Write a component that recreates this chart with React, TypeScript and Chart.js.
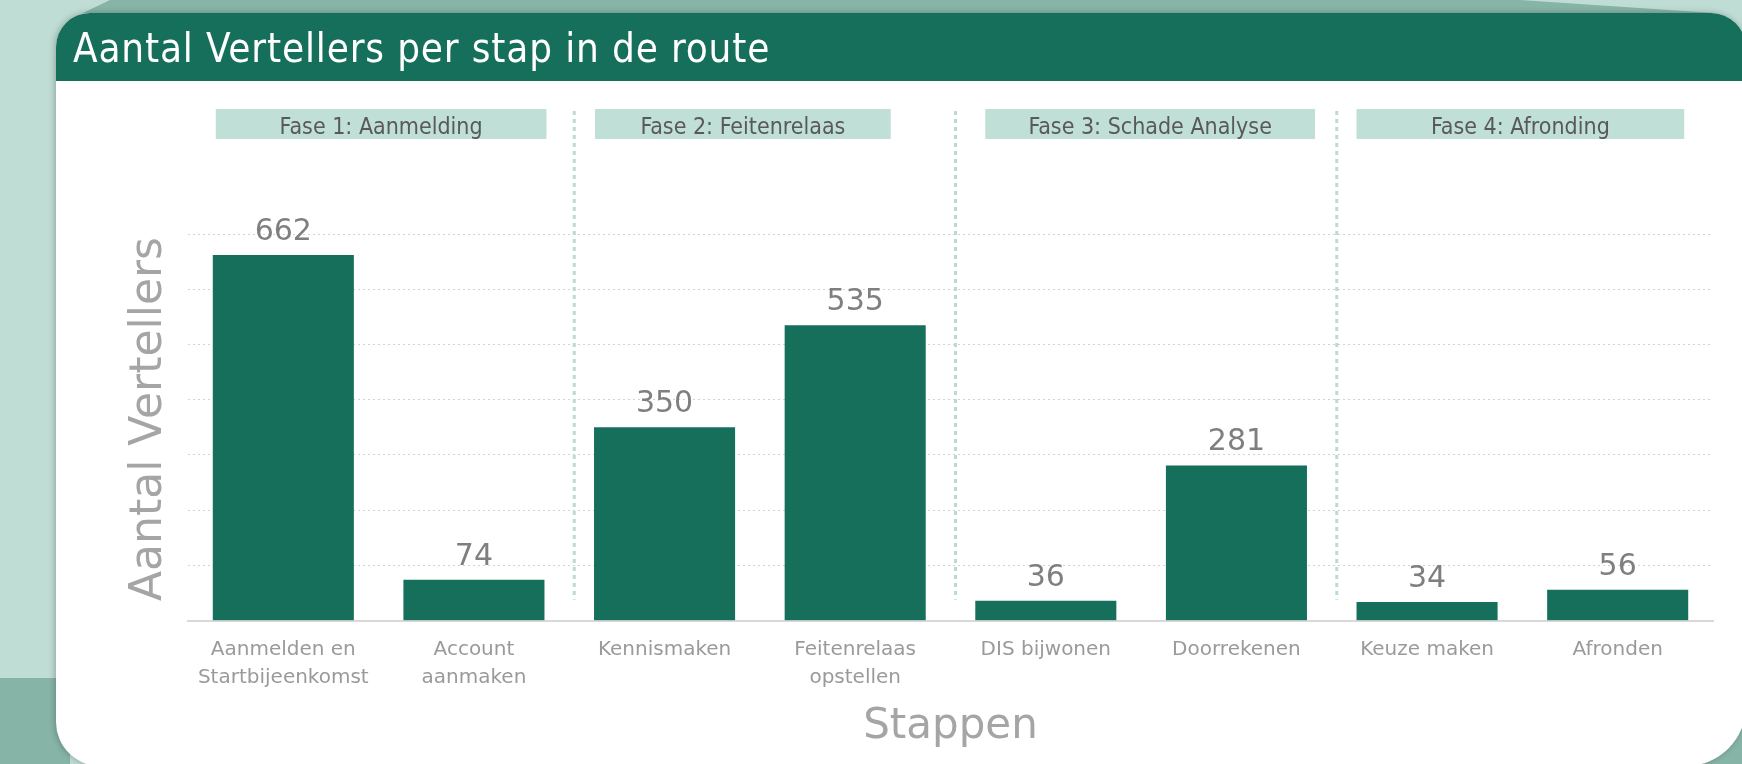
import React, { useEffect, useRef } from "react";
import { Chart, registerables } from "chart.js";

Chart.register(...registerables);

const W = 1742;
const H = 764;

// ---- data ----
const stepLabels: (string | string[])[] = [
  ["Aanmelden en", "Startbijeenkomst"],
  ["Account", "aanmaken"],
  "Kennismaken",
  ["Feitenrelaas", "opstellen"],
  "DIS bijwonen",
  "Doorrekenen",
  "Keuze maken",
  "Afronden",
];
const vertellers = [662, 74, 350, 535, 36, 281, 34, 56];
const phaseNames = [
  "Fase 1: Aanmelding",
  "Fase 2: Feitenrelaas",
  "Fase 3: Schade Analyse",
  "Fase 4: Afronding",
];
const phaseFirstStep = [0, 2, 4, 6];
const phaseLastStep = [1, 3, 5, 7];
const yMax = 700;
const yStep = 100;
const chartTitle = "Aantal Vertellers per stap in de route";
const yTitle = "Aantal Vertellers";
const xTitle = "Stappen";

// ---- styles ----
const GREEN = "#156f5b";
const BG_LIGHT = "#bfdcd5";
const BG_DARK = "#86b4a7";
const PHASE_BG = "#c0dfd7";
const SEP = "#bcdad3";
const SANS = '"DejaVu Sans", Verdana, sans-serif';
const COND = '"DejaVu Sans Condensed", "DejaVu Sans", sans-serif';
// box edge adjustments (px) relative to the outer bar edges of each phase: [left, right]
const phaseBoxAdjust = [
  [3, 2],
  [1, -35],
  [10, 8],
  [0, -4],
];

const backgroundPlugin = {
  id: "cardBackground",
  beforeDraw(chart: any) {
    const ctx: CanvasRenderingContext2D = chart.ctx;
    ctx.save();
    ctx.fillStyle = BG_LIGHT;
    ctx.fillRect(0, 0, W, H);
    ctx.fillStyle = BG_DARK;
    ctx.beginPath();
    ctx.moveTo(110, 0);
    ctx.lineTo(1520, 0);
    ctx.lineTo(1714, 13);
    ctx.lineTo(83, 13);
    ctx.closePath();
    ctx.fill();
    ctx.fillRect(0, 678, 70, H - 678);
    ctx.fillRect(1660, 690, W - 1660, H - 690);

    const card = new Path2D();
    (card as any).roundRect(56, 13, 1746 - 56, 766 - 13, [34, 35, 60, 44]);
    ctx.save();
    ctx.shadowColor = "rgba(0,0,0,0.25)";
    ctx.shadowBlur = 6;
    ctx.shadowOffsetX = -1;
    ctx.fillStyle = "#ffffff";
    ctx.fill(card);
    ctx.restore();

    ctx.save();
    ctx.clip(card);
    ctx.fillStyle = GREEN;
    ctx.fillRect(56, 13, 1746 - 56, 81 - 13);
    ctx.restore();

    ctx.fillStyle = "#ffffff";
    ctx.font = "40px " + COND;
    (ctx as any).letterSpacing = "0.85px";
    ctx.textAlign = "left";
    ctx.textBaseline = "alphabetic";
    ctx.fillText(chartTitle, 73, 62);
    (ctx as any).letterSpacing = "0px";

    // y-axis title
    ctx.save();
    ctx.translate(150, 419);
    ctx.rotate(-Math.PI / 2);
    ctx.fillStyle = "#a5a5a5";
    ctx.font = "44px " + SANS;
    ctx.textAlign = "center";
    ctx.textBaseline = "middle";
    ctx.fillText(yTitle, 0, 0);
    ctx.restore();
    ctx.restore();
  },
};

const phasePlugin = {
  id: "phases",
  beforeDatasetsDraw(chart: any) {
    const ctx: CanvasRenderingContext2D = chart.ctx;
    const meta = chart.getDatasetMeta(0);
    const area = chart.chartArea;
    const bars = meta.data;
    ctx.save();
    phaseNames.forEach((name, p) => {
      const a = bars[phaseFirstStep[p]];
      const b = bars[phaseLastStep[p]];
      const x0 = a.x - a.width / 2 + phaseBoxAdjust[p][0];
      const x1 = b.x + b.width / 2 + phaseBoxAdjust[p][1];
      const top = area.top - 125;
      ctx.fillStyle = PHASE_BG;
      ctx.fillRect(x0, top, x1 - x0, 30);
      ctx.fillStyle = "#595959";
      ctx.font = "23px " + COND;
      ctx.textAlign = "center";
      ctx.textBaseline = "alphabetic";
      ctx.fillText(name, (x0 + x1) / 2, top + 25);
      if (p < phaseNames.length - 1) {
        const n = bars[phaseFirstStep[p + 1]];
        const sx = (b.x + n.x) / 2 + 5;
        ctx.strokeStyle = SEP;
        ctx.lineWidth = 3;
        ctx.setLineDash([4, 4]);
        ctx.beginPath();
        ctx.moveTo(sx, area.top - 123);
        ctx.lineTo(sx, area.bottom - 21);
        ctx.stroke();
        ctx.setLineDash([]);
      }
    });
    ctx.restore();
  },
};

const valueLabelPlugin = {
  id: "valueLabels",
  afterDatasetsDraw(chart: any) {
    const ctx: CanvasRenderingContext2D = chart.ctx;
    const meta = chart.getDatasetMeta(0);
    ctx.save();
    ctx.fillStyle = "#7f7f7f";
    ctx.font = "30px " + SANS;
    ctx.textAlign = "center";
    ctx.textBaseline = "alphabetic";
    meta.data.forEach((bar: any, i: number) => {
      ctx.fillText(String(vertellers[i]), bar.x, bar.y - 15);
    });
    ctx.restore();
  },
};

export default function App() {
  const ref = useRef<HTMLCanvasElement | null>(null);
  useEffect(() => {
    if (!ref.current) return;
    const chart = new Chart(ref.current, {
      type: "bar",
      data: {
        labels: stepLabels as any,
        datasets: [
          {
            data: vertellers,
            backgroundColor: GREEN,
            borderWidth: 0,
            categoryPercentage: 1,
            barPercentage: 0.74,
          },
        ],
      },
      options: {
        responsive: false,
        animation: false,
        devicePixelRatio: 1,
        layout: { padding: { left: 188, right: 29, top: 234, bottom: 17 } },
        plugins: {
          legend: { display: false },
          tooltip: { enabled: false },
          title: { display: false },
        },
        scales: {
          x: {
            grid: { display: false },
            border: { display: true, color: "#d9d9d9", width: 2 },
            ticks: {
              color: "#9a9a9a",
              font: { family: SANS, size: 20, lineHeight: 1.4 },
              padding: 7,
              maxRotation: 0,
              autoSkip: false,
            },
            title: {
              display: true,
              text: xTitle,
              color: "#a5a5a5",
              font: { family: SANS, size: 42, lineHeight: 0.96 },
              padding: { top: 8, bottom: 0 },
            },
          },
          y: {
            min: 0,
            max: yMax,
            ticks: { display: false, stepSize: yStep },
            border: { display: false, dash: [2, 3] },
            grid: {
              drawTicks: false,
              lineWidth: 1,
              color: (c: any) => (c.tick && c.tick.value === 0 ? "rgba(0,0,0,0)" : "#d2d2d2"),
            },
            title: { display: false },
            afterFit: (s: any) => {
              s.width = 0;
            },
          },
        },
      },
      plugins: [backgroundPlugin, phasePlugin, valueLabelPlugin],
    });
    return () => chart.destroy();
  }, []);
  return (
    <div style={{ position: "fixed", left: 0, top: 0, width: W, height: H }}>
      <canvas ref={ref} width={W} height={H} style={{ display: "block", width: W, height: H }} />
    </div>
  );
}
